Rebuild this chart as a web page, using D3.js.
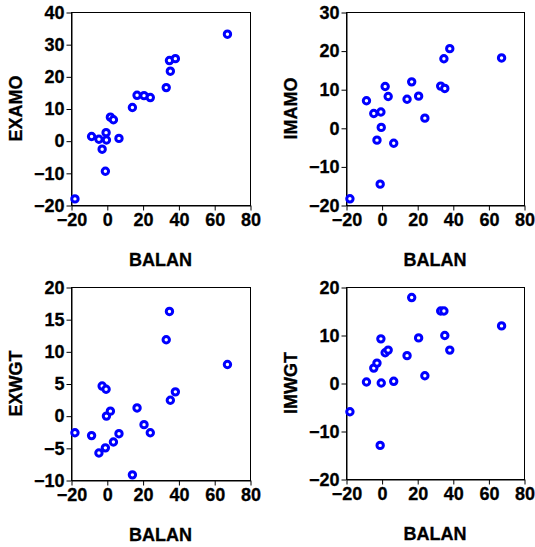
<!DOCTYPE html>
<html>
<head>
<meta charset="utf-8">
<script src="https://cdn.jsdelivr.net/npm/d3@7"></script>
<style>
  html, body { margin: 0; padding: 0; background: #fff; }
  svg { display: block; }
  .tick text { font-family: "Liberation Sans", Arial, sans-serif; font-weight: bold; font-size: 18px; fill: #000; stroke: #000; stroke-width: 0.3px; }
  .title { font-family: "Liberation Sans", Arial, sans-serif; font-weight: bold; font-size: 18px; fill: #000; stroke: #000; stroke-width: 0.3px; }
</style>
</head>
<body>
<script>
// Shared x variable
const BALAN = [-17.8, -8.5, -4.4, -2.6, -0.4, -0.2, -0.8, 2.0, 3.7, 6.8, 14.3, 16.9, 20.8, 24.3, 33.2, 35.0, 35.5, 38.3, 67.4];
// Y variables
const EXAMO = [-18.1, 1.3, 0.45, -2.65, 2.5, 0.2, -9.5, 7.3, 6.5, 0.7, 10.3, 14.1, 14.0, 13.4, 16.5, 24.9, 21.6, 25.5, 33.1];
const IMAMO = [-18.4, 7.0, 3.7, -3.2, 4.1, 0.1, -14.6, 10.7, 8.1, -4.0, 7.4, 11.9, 8.2, 2.5, 10.8, 17.9, 10.2, 20.5, 18.1];
const EXWGT = [-2.66, -3.1, -5.8, 4.6, 4.1, -0.07, -5.0, 0.7, -4.1, -2.8, -9.2, 1.2, -1.4, -2.66, 11.8, 16.2, 2.4, 3.7, 7.95];
const IMWGT = [-6.0, 0.2, 3.1, 4.15, 9.2, 0.0, -13.0, 6.3, 6.85, 0.35, 5.7, 17.8, 9.4, 1.5, 15.0, 15.0, 9.9, 6.85, 11.9];

// Tick labels
const xTicks = [-20, 0, 20, 40, 60, 80];
const yTicksEXAMO = [-20, -10, 0, 10, 20, 30, 40];
const yTicksIMAMO = [-20, -10, 0, 10, 20, 30];
const yTicksEXWGT = [-10, -5, 0, 5, 10, 15, 20];
const yTicksIMWGT = [-20, -10, 0, 10, 20];

const W = 535, H = 547;
const svg = d3.select("body").append("svg").attr("width", W).attr("height", H);

const panels = [
  { name: "EXAMO", y: EXAMO, ticks: yTicksEXAMO, box: [71, 250, 12, 205] },
  { name: "IMAMO", y: IMAMO, ticks: yTicksIMAMO, box: [346, 524, 12, 205] },
  { name: "EXWGT", y: EXWGT, ticks: yTicksEXWGT, box: [71, 250, 287, 480] },
  { name: "IMWGT", y: IMWGT, ticks: yTicksIMWGT, box: [346, 524, 287, 479] }
];

panels.forEach(p => {
  const [x0, x1, y0, y1] = p.box;
  const x = d3.scaleLinear().domain([xTicks[0], xTicks[xTicks.length - 1]]).range([x0, x1]);
  const y = d3.scaleLinear().domain([p.ticks[0], p.ticks[p.ticks.length - 1]]).range([y1, y0]);
  const g = svg.append("g");

  // box (top/right)
  g.append("rect")
    .attr("x", x0 + 0.5).attr("y", y0 + 0.5)
    .attr("width", x1 - x0).attr("height", y1 - y0)
    .attr("fill", "none").attr("stroke", "#000").attr("stroke-width", 1);

  const xa = g.append("g").attr("transform", `translate(0.5,${y1 + 0.5})`)
    .call(d3.axisBottom(x).tickValues(xTicks).tickSize(5).tickPadding(3).tickSizeOuter(0));
  const ya = g.append("g").attr("transform", `translate(${x0 + 0.5},0.5)`)
    .call(d3.axisLeft(y).tickValues(p.ticks).tickSize(5).tickPadding(2).tickSizeOuter(0));
  [xa, ya].forEach(a => {
    a.selectAll("path.domain").attr("stroke", "#000");
    a.selectAll(".tick line").attr("stroke", "#000");
  });

  g.append("g").selectAll("circle").data(BALAN.map((b, i) => [b, p.y[i]])).join("circle")
    .attr("cx", d => x(d[0])).attr("cy", d => y(d[1]))
    .attr("r", 3.2).attr("fill", "#fff").attr("stroke", "#0000ff").attr("stroke-width", 3);

  g.append("text").attr("class", "title")
    .attr("x", (x0 + x1) / 2).attr("y", y1 + 61)
    .attr("text-anchor", "middle").text("BALAN");

  g.append("text").attr("class", "title")
    .attr("transform", `translate(${x0 - 49.5},${(y0 + y1) / 2}) rotate(-90)`)
    .attr("text-anchor", "middle").text(p.name);
});
</script>
</body>
</html>
